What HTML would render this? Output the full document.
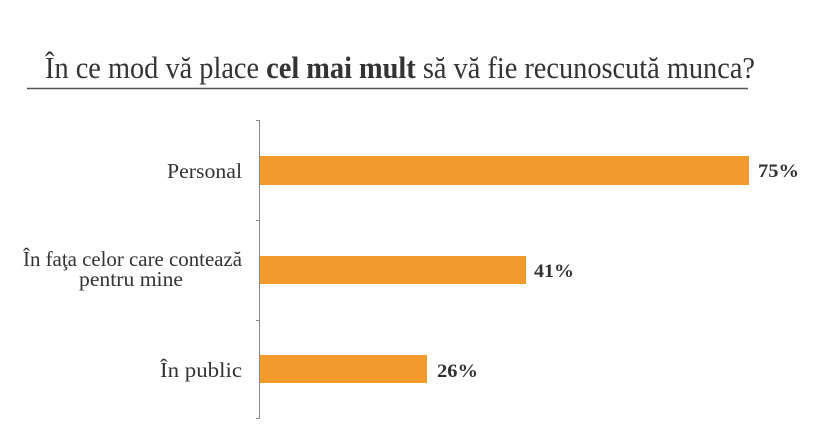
<!DOCTYPE html>
<html><head><meta charset="utf-8"><style>
html,body{margin:0;padding:0;background:#fff;}
svg{display:block;}
</style></head><body>
<svg width="820" height="425" xmlns="http://www.w3.org/2000/svg" font-family="'Liberation Serif', serif">
<rect width="820" height="425" fill="#fff"/>
<text x="45" y="78" font-size="31" fill="#333" textLength="710" lengthAdjust="spacingAndGlyphs">În ce mod vă place <tspan font-weight="bold">cel mai mult</tspan> să vă fie recunoscută munca?</text>
<line x1="27" y1="88.5" x2="748" y2="88.5" stroke="#555" stroke-width="1.5"/>
<line x1="259.5" y1="120" x2="259.5" y2="418" stroke="#888" stroke-width="1"/>
<g stroke="#888"><line x1="256" y1="120.5" x2="260" y2="120.5"/><line x1="256" y1="220.5" x2="260" y2="220.5"/><line x1="256" y1="320.5" x2="260" y2="320.5"/><line x1="256" y1="418.5" x2="260" y2="418.5"/></g>
<g fill="#f39a2c">
<rect x="260" y="156" width="489" height="29"/>
<rect x="260" y="256" width="266" height="28"/>
<rect x="260" y="355" width="167" height="28"/>
</g>
<g font-size="21" fill="#333">
<text x="167" y="178" textLength="75" lengthAdjust="spacingAndGlyphs">Personal</text>
<text x="23" y="266" textLength="219" lengthAdjust="spacingAndGlyphs">În faţa celor care contează</text>
<text x="79" y="286" textLength="104" lengthAdjust="spacingAndGlyphs">pentru mine</text>
<text x="160" y="377" textLength="82" lengthAdjust="spacingAndGlyphs">În public</text>
</g>
<g font-size="19" fill="#333" font-weight="bold">
<text x="758" y="177" textLength="41" lengthAdjust="spacingAndGlyphs">75%</text>
<text x="534" y="277" textLength="40" lengthAdjust="spacingAndGlyphs">41%</text>
<text x="437" y="377" textLength="41" lengthAdjust="spacingAndGlyphs">26%</text>
</g>
</svg>
</body></html>
